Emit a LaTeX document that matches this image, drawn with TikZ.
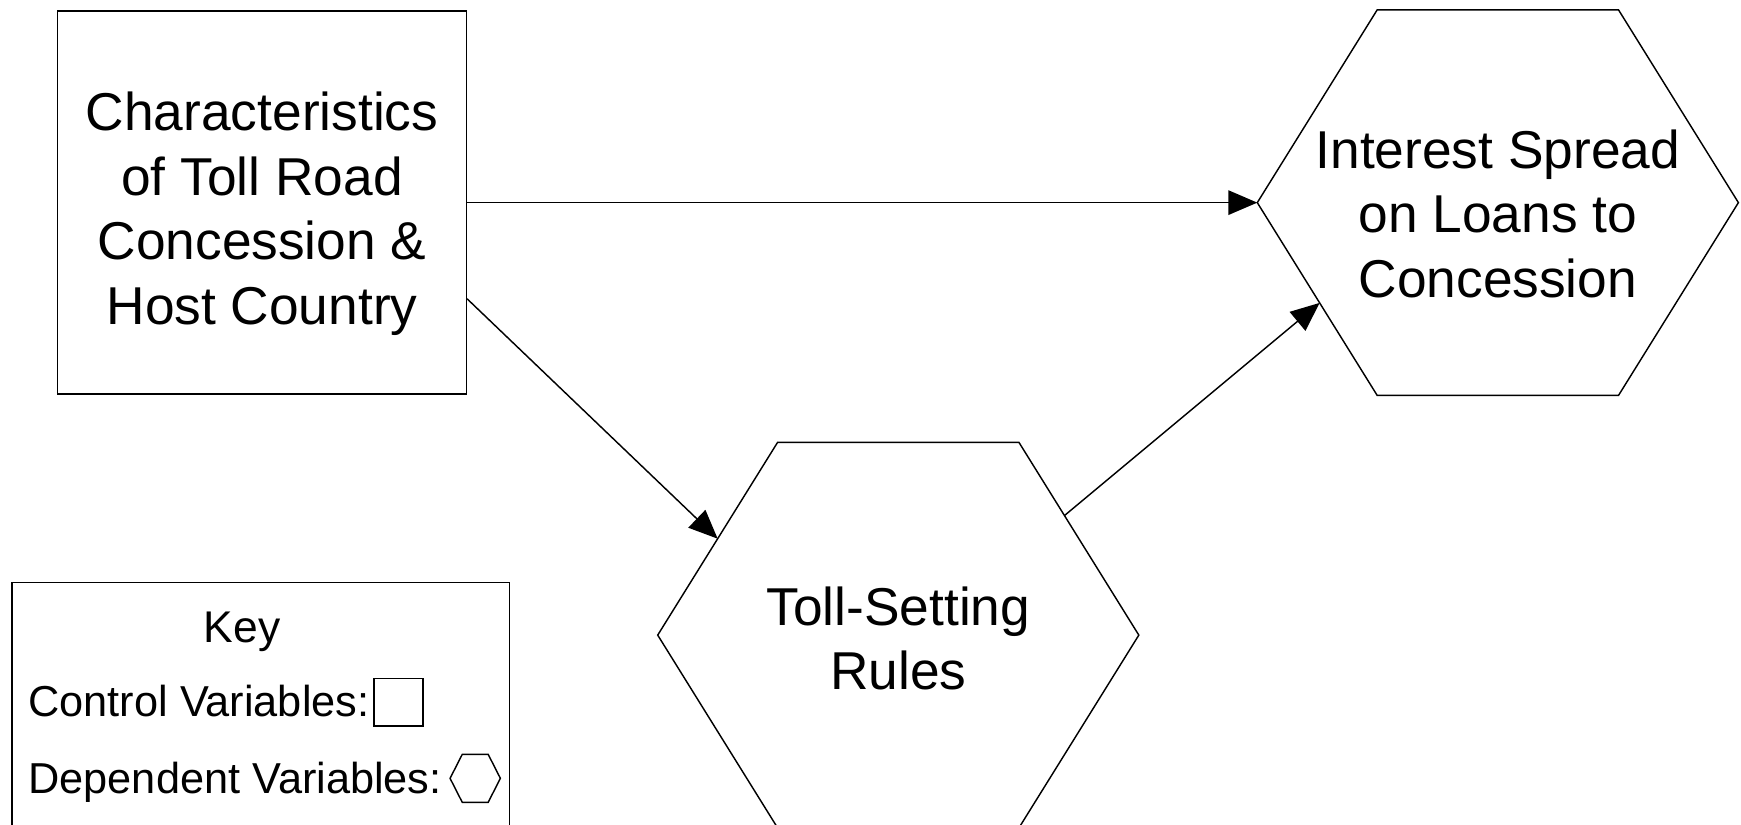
\documentclass[tikz,border=0pt]{standalone}
\usepackage{fontspec}
\setmainfont{Liberation Sans}
\usetikzlibrary{arrows.meta,calc}
\newcommand{\hexpath}[2]{\draw (#1.west) -- ([xshift=#2]#1.north west) -- ([xshift=-#2]#1.north east) -- (#1.east) -- ([xshift=-#2]#1.south east) -- ([xshift=#2]#1.south west) -- cycle;}
\begin{document}
\begin{tikzpicture}[x=0.5pt,y=-0.5pt,
  line width=0.65pt,
  mainbox/.style={draw, rectangle, minimum width=184pt, minimum height=172.5pt, inner sep=0pt},
  hexbox/.style={rectangle, minimum width=216pt, minimum height=173pt, inner sep=0pt},
  bigtext/.style={inner sep=0pt, align=center, font=\fontsize{24}{29}\selectfont},
  keytext/.style={inner sep=0pt, font=\fontsize{19.5}{23}\selectfont},
  arr/.style={-{Triangle[length=13pt,width=11pt]}},
]
\useasboundingbox (0,0) rectangle (1568,743);

\node[mainbox] (char) at (236,182.5) {};
\node[bigtext] (chartext) at ([yshift=-5pt]char.center) {Characteristics\\of Toll Road\\Concession \&\\Host Country};
\node[hexbox] (int) at (1349,182.5) {};
\hexpath{int}{54pt}
\node[bigtext] (inttext) at ([yshift=-5pt]int.center) {Interest Spread\\on Loans to\\Concession};
\node[hexbox] (ts) at (809,572) {};
\hexpath{ts}{54pt}
\node[bigtext] (tstext) at ([yshift=-1.5pt]ts.center) {Toll-Setting\\Rules};

\draw[arr] (char.east |- int.west) -- (int.west);
\coordinate (c1) at ($(char.north east)!0.75!(char.south east)$);
\coordinate (t1) at ($(ts.west)!0.5!([xshift=54pt]ts.north west)$);
\draw[arr] (c1) -- (t1);
\coordinate (t2) at ($([xshift=-54pt]ts.north east)!0.38!(ts.east)$);
\coordinate (i2) at ($(int.west)!0.52!([xshift=54pt]int.south west)$);
\draw[arr] (t2) -- (i2);

\node[draw, rectangle, minimum width=224pt, minimum height=130pt, anchor=north west, inner sep=0pt] (keybox) at (10,524) {};
\node[inner sep=0pt, font=\fontsize{20}{24}\selectfont, anchor=base] (keytitle) at (218,579) {Key};
\node[keytext, anchor=base west] (ctrl) at (25,645.5) {Control Variables:};
\node[keytext, anchor=base west] (dep) at (25,714.5) {Dependent Variables:};
\node[draw, rectangle, minimum width=22pt, minimum height=21.5pt, inner sep=0pt] (keysq) at (359,632.5) {};
\node[rectangle, minimum width=22pt, minimum height=21pt, inner sep=0pt] (keyhex) at (428,701) {};
\hexpath{keyhex}{5.5pt}
\end{tikzpicture}
\end{document}
